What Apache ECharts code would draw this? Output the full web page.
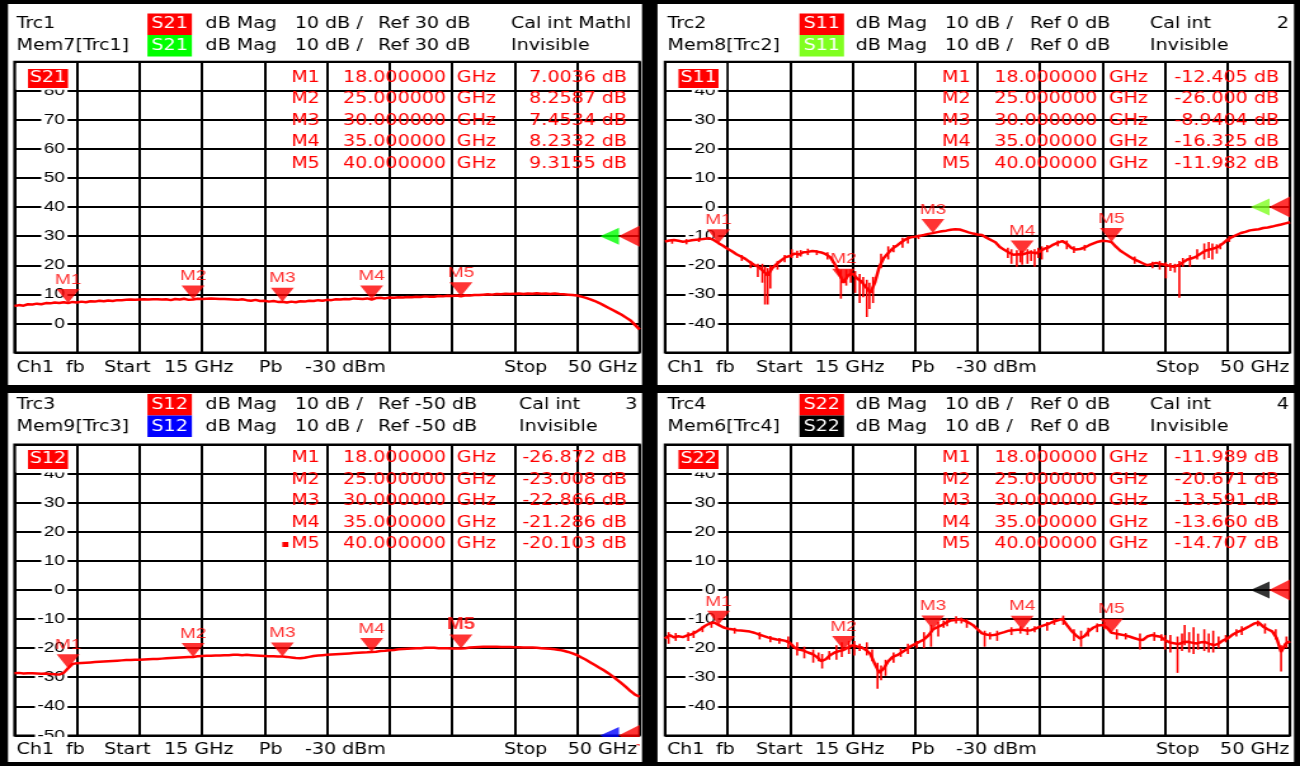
<!DOCTYPE html>
<html>
<head>
<meta charset="utf-8">
<script src="https://cdn.jsdelivr.net/npm/echarts@6/dist/echarts.min.js"></script>
<style>
  html, body { margin: 0; padding: 0; background: #000; overflow: hidden; width: 1300px; height: 766px; }
  /* The analyzer screen is laid out at 1024 px and stretched to the 1300 px window */
  #chart { position: absolute; left: 0; top: 0; width: 1024px; height: 766px;
           transform: scaleX(1.26953125); transform-origin: 0 0; }
</style>
</head>
<body>
<div id="chart"></div>
<script>
// ---- sweep ----
const SWEEP_START_GHZ = 15;
const SWEEP_STOP_GHZ = 50;
const SWEEP_STEP_GHZ = 0.25;
const GHZ_PER_DIV = 3.5;

// ---- markers ----
const MARKER_NAMES = ['M1', 'M2', 'M3', 'M4', 'M5'];
const MARKER_GHZ = [18, 25, 30, 35, 40];
const S21_MARKERS = [7.0036, 8.2587, 7.4534, 8.2332, 9.3155];
const S11_MARKERS = [-12.405, -26.000, -8.9404, -16.325, -11.982];
const S12_MARKERS = [-26.872, -23.008, -22.866, -21.286, -20.103];
const S22_MARKERS = [-11.989, -20.671, -13.591, -13.660, -14.707];

// ---- scale settings (dB) ----
const REF_LEVELS = [30, 0, -50, 0];
const Y_MIN = [-10, -50, -50, -50];
const Y_MAX = [90, 50, 50, 50];
const Y_STEP = 10;

// ---- traces, one row per GHz (15.00, 15.25, 15.50, 15.75 ...) ----
const S21_DB = [
  6.0, 6.3, 6.1, 6.6,
  6.5, 6.8, 6.6, 7.0,
  6.9, 7.2, 7.0, 7.3,
  7.0, 7.4, 7.2, 7.5,
  7.3, 7.6, 7.5, 7.8,
  7.6, 7.9, 7.7, 8.0,
  8.0, 8.1, 8.2, 8.1,
  8.2, 8.3, 8.2, 8.3,
  8.3, 8.2, 8.3, 8.0,
  8.4, 8.2, 8.5, 8.1,
  8.26, 8.5, 8.4, 8.5,
  8.6, 8.5, 8.4, 8.4,
  8.3, 8.2, 8.1, 8.3,
  8.0, 7.8, 8.1, 7.7,
  7.8, 7.5, 7.7, 7.4,
  7.45, 7.2, 7.5, 7.3,
  7.6, 7.5, 7.8, 7.7,
  8.0, 7.8, 8.1, 8.0,
  8.3, 8.2, 8.4, 8.3,
  8.6, 8.5, 8.4, 8.6,
  8.23, 8.7, 8.8, 8.6,
  8.9, 8.8, 9.0, 8.9,
  9.1, 9.0, 9.2, 9.1,
  9.3, 9.2, 9.2, 9.4,
  9.3, 9.5, 9.4, 9.6,
  9.32, 9.7, 9.6, 9.8,
  9.8, 9.9, 10.0, 9.9,
  10.1, 10.0, 10.2, 10.1,
  10.2, 10.3, 10.1, 10.3,
  10.2, 10.4, 10.2, 10.3,
  10.1, 10.3, 10.1, 10.0,
  9.9, 9.8, 9.6, 9.2,
  8.8, 8.3, 7.7, 7.0,
  6.2, 5.4, 4.6, 3.8,
  3.0, 2.0, 1.0, -0.5,
  -2.1
];

const S11_DB = [
  -11.8, -11.5, -11.3, -11.6,
  -11.9, -11.7, -11.4, -11.2,
  -11.1, -10.9, -10.7, -11.4,
  -12.4, -13.3, -14.3, -15.2,
  -16.2, -17.0, -17.8, -18.9,
  -19.9, -20.6, -22.0, -23.5,
  -21.0, -19.6, -18.3, -17.2,
  -16.8, -16.0, -16.3, -15.5,
  -15.4, -15.1, -15.3, -15.6,
  -16.2, -17.2, -19.5, -22.8,
  -26.0, -23.5, -22.8, -24.5,
  -25.6, -27.5, -29.5, -26.0,
  -20.5, -17.5, -15.8, -14.2,
  -13.2, -12.0, -11.0, -10.4,
  -10.2, -9.9, -9.6, -9.2,
  -8.94, -8.6, -8.3, -8.1,
  -7.8, -7.6, -7.7, -8.2,
  -8.7, -9.1, -9.4, -9.6,
  -10.5, -11.3, -12.1, -13.7,
  -14.7, -15.6, -16.4, -16.2,
  -16.3, -15.8, -15.5, -15.9,
  -15.2, -14.3, -13.8, -12.9,
  -12.2, -11.7, -12.6, -14.0,
  -14.6, -14.4, -13.9, -13.1,
  -12.5, -11.9, -11.6, -11.7,
  -11.98, -13.6, -15.0, -16.0,
  -17.0, -17.9, -18.6, -19.3,
  -20.0, -19.6, -19.2, -19.6,
  -19.8, -20.2, -20.5, -20.0,
  -19.0, -18.0, -17.6, -17.0,
  -16.0, -15.0, -14.6, -14.2,
  -13.6, -12.5, -11.2, -10.3,
  -9.6, -8.9, -8.5, -8.0,
  -7.8, -7.6, -7.2, -7.0,
  -6.7, -6.3, -6.0, -5.6,
  -5.2
];

const S12_DB = [
  -28.6, -28.5, -28.7, -28.6,
  -28.6, -28.7, -28.8, -28.7,
  -28.9, -29.0, -29.1, -28.5,
  -26.87, -25.4, -25.2, -25.1,
  -25.0, -24.9, -24.8, -24.7,
  -24.6, -24.5, -24.4, -24.3,
  -24.2, -24.1, -24.1, -24.0,
  -24.0, -23.9, -23.8, -23.7,
  -23.7, -23.6, -23.5, -23.4,
  -23.3, -23.2, -23.1, -23.0,
  -23.01, -22.8, -22.7, -22.6,
  -22.6, -22.5, -22.5, -22.4,
  -22.4, -22.3, -22.3, -22.4,
  -22.3, -22.4, -22.5, -22.6,
  -22.7, -22.8, -22.8, -22.9,
  -22.87, -23.0, -23.2, -23.4,
  -23.5, -23.3, -23.0, -22.7,
  -22.5, -22.4, -22.3, -22.2,
  -22.1, -22.0, -21.9, -21.8,
  -21.7, -21.6, -21.5, -21.4,
  -21.29, -21.2, -21.0, -20.9,
  -20.7, -20.6, -20.4, -20.3,
  -20.2, -20.1, -20.0, -20.0,
  -19.9, -19.9, -19.9, -20.0,
  -20.0, -20.0, -20.1, -20.1,
  -20.10, -20.0, -19.8, -19.7,
  -19.6, -19.5, -19.5, -19.5,
  -19.5, -19.6, -19.6, -19.6,
  -19.7, -19.7, -19.8, -19.8,
  -19.8, -19.9, -20.0, -20.1,
  -20.2, -20.4, -20.6, -20.9,
  -21.3, -21.8, -22.4, -23.2,
  -24.0, -24.9, -25.8, -26.7,
  -27.6, -28.6, -29.7, -30.9,
  -32.1, -33.4, -34.8, -36.0,
  -36.7
];

const S22_DB = [
  -16.7, -15.5, -16.3, -15.9,
  -16.2, -15.6, -15.2, -14.4,
  -13.4, -12.3, -11.5, -11.2,
  -11.99, -12.8, -13.3, -13.5,
  -13.8, -13.9, -14.1, -14.3,
  -14.7, -15.3, -15.8, -16.3,
  -16.7, -17.0, -17.2, -17.5,
  -18.2, -19.8, -20.5, -20.8,
  -21.5, -22.0, -23.0, -24.5,
  -23.8, -22.4, -21.5, -21.0,
  -20.67, -19.8, -19.0, -19.4,
  -19.7, -20.6, -22.0, -25.5,
  -28.5, -27.0, -24.5, -23.0,
  -22.4, -21.5, -20.5, -19.4,
  -18.6, -17.8, -17.0, -15.6,
  -13.59, -12.8, -12.1, -11.2,
  -10.5, -10.3, -10.1, -10.5,
  -11.2, -12.1, -13.5, -14.9,
  -15.3, -15.6, -15.4, -14.9,
  -14.5, -14.0, -13.8, -13.7,
  -13.66, -13.9, -13.8, -13.3,
  -12.6, -12.1, -11.6, -10.9,
  -10.4, -9.9, -12.0, -14.0,
  -15.5, -16.7, -15.8, -14.0,
  -12.9, -12.2, -12.0, -13.0,
  -14.71, -15.0, -15.3, -15.6,
  -16.0, -16.5, -17.0, -17.2,
  -16.0, -15.5, -15.8, -16.1,
  -17.2, -18.0, -18.3, -18.6,
  -18.0, -17.8, -18.1, -18.4,
  -18.0, -17.9, -18.5, -19.0,
  -18.4, -17.3, -16.7, -15.5,
  -14.6, -14.0, -13.2, -12.4,
  -11.5, -11.2, -12.6, -13.5,
  -14.2, -16.5, -21.3, -18.5,
  -17.6
];

// narrow noise spikes: [GHz, upper dB, lower dB]
const S11_SPIKES = [
  [15.4, -11, -12.6], [16.2, -11, -12.8], [16.9, -10.5, -12],
  [19.3, -16.5, -18.5], [19.8, -18.5, -21], [20.2, -19.5, -24],
  [20.45, -19.5, -26], [20.6, -20.5, -33.5], [20.75, -21, -33.5], [20.9, -20, -28],
  [21.3, -18.5, -21.5], [21.7, -16.5, -19], [22.1, -14.5, -17.5], [22.4, -15, -17.5], [22.6, -14.8, -17],
  [23.0, -14.3, -16.5], [23.5, -14.8, -16.5], [24.1, -15.5, -18],
  [24.85, -21.5, -31.5], [25.15, -21.5, -27], [25.4, -21.5, -26], [25.65, -22, -29.5],
  [25.9, -23, -33], [26.1, -24, -31], [26.3, -25, -37.8], [26.45, -26, -35], [26.65, -24, -33],
  [27.1, -16, -21], [27.5, -13.5, -18], [27.8, -13, -15.5], [28.3, -10.5, -14], [28.6, -10, -12.5], [29.2, -9.5, -11],
  [34.2, -14, -17.5], [34.4, -14.5, -19.5], [34.7, -14.8, -20.5], [34.9, -15, -19], [35.0, -15, -19.8],
  [35.3, -14.5, -19.5], [35.5, -14.8, -18.5], [35.7, -14.5, -20.5], [35.9, -14, -17.5],
  [36.1, -13.5, -18], [36.4, -13, -15.5], [37.0, -11.5, -13.5], [37.5, -11.5, -14.5],
  [37.9, -13.5, -15.8], [38.5, -13, -15],
  [41.3, -17, -19.5], [42.3, -18.8, -21], [42.7, -18.5, -21.5],
  [43.05, -19, -24.5], [43.3, -19.2, -22], [43.55, -19.5, -22.5], [43.8, -18.5, -31.2],
  [44.0, -17.5, -20.5], [44.4, -16.5, -20.5], [44.8, -14.5, -18],
  [45.2, -12.5, -18], [45.45, -12, -17.5], [45.65, -12.5, -18], [45.9, -12.8, -16],
  [46.1, -12.5, -14.5], [46.6, -10, -12]
];
const S22_SPIKES = [
  [15.2, -14.5, -18.5], [15.6, -14.8, -17.5], [16.3, -14.5, -17.5], [16.6, -14, -16.5],
  [17.1, -12.5, -14.5], [17.6, -10.8, -13], [18.9, -13, -15], [20.3, -14.5, -17], [20.9, -15.8, -18],
  [21.4, -16.5, -18.5], [21.9, -16, -20], [22.4, -18, -22.5], [22.8, -19.5, -23.5], [23.3, -20.5, -25],
  [23.6, -21.5, -24.5], [23.8, -22, -27], [24.2, -21, -24], [24.6, -19, -24], [24.9, -18, -23],
  [25.3, -17.5, -22], [25.6, -17.5, -22.5], [25.9, -18.5, -21],
  [26.3, -18, -22.5], [26.6, -20.5, -24.5], [26.9, -25, -34], [27.1, -26, -31], [27.35, -24, -29.5],
  [27.8, -21.5, -25], [28.2, -20, -23],
  [28.6, -18.5, -22], [29.1, -17.5, -20], [29.5, -14.5, -20], [29.9, -12, -19.5], [30.3, -11, -16],
  [30.6, -10.5, -13], [30.8, -9.8, -12.5],
  [31.3, -9, -11.5], [31.6, -9.5, -11.5], [31.9, -10, -13], [32.9, -14, -19.5], [33.2, -14.5, -17],
  [33.6, -14, -17.5], [34.4, -12.8, -15.5], [34.9, -12.5, -15],
  [35.3, -12.8, -15.5], [35.7, -12.5, -14.5], [36.4, -11, -14], [36.8, -9.8, -12], [37.3, -8.8, -12],
  [37.9, -13.5, -17.5], [38.3, -14, -19.5], [38.7, -13, -16],
  [39.2, -11.5, -14.5], [39.6, -11, -13.5], [40.3, -13.5, -17], [40.8, -14.8, -17], [41.6, -15, -20.5],
  [42.4, -14.5, -17.5], [42.8, -15.2, -17.5],
  [43.0, -15.5, -20.5], [43.3, -15.5, -21.5], [43.7, -16, -28.5], [43.95, -15, -21],
  [44.1, -12, -19], [44.35, -14.5, -21.5], [44.6, -12.8, -22], [44.85, -15, -20.5], [45.2, -13.5, -21],
  [45.45, -15, -21.5], [45.7, -14, -21.5], [46.0, -16, -20], [46.4, -15.5, -18], [47.0, -13.5, -16],
  [47.3, -12.5, -15.5], [48.2, -10.5, -12.5], [48.6, -11.5, -15], [49.2, -13.5, -17],
  [49.5, -19, -28], [49.8, -16, -20]
];

// ---- screen geometry (window pixels; x is converted to layout pixels) ----
const SX = 1300 / 1024;
const u = v => v / SX;
const RED = '#ff0000';
const FONT_UI = '15px "DejaVu Sans"';
const FONT_SCALE = 'Liberation Sans';

const PANELS = [
  { trc: 'Trc1', mem: 'Mem7[Trc1]', param: 'S21', memColor: '#00ff00', ref: 'Ref 30 dB', cal: 'Cal int Mathl', num: '',
    trace: S21_DB, spikes: null, markers: S21_MARKERS, col: 0, row: 0, calX: 511, activeMarker: -1 },
  { trc: 'Trc2', mem: 'Mem8[Trc2]', param: 'S11', memColor: '#80ff20', ref: 'Ref 0 dB', cal: 'Cal int', num: '2',
    trace: S11_DB, spikes: S11_SPIKES, markers: S11_MARKERS, col: 1, row: 0, calX: 1150, activeMarker: -1 },
  { trc: 'Trc3', mem: 'Mem9[Trc3]', param: 'S12', memColor: '#0000ff', ref: 'Ref -50 dB', cal: 'Cal int', num: '3',
    trace: S12_DB, spikes: null, markers: S12_MARKERS, col: 0, row: 1, calX: 519, activeMarker: 4 },
  { trc: 'Trc4', mem: 'Mem6[Trc4]', param: 'S22', memColor: '#000000', ref: 'Ref 0 dB', cal: 'Cal int', num: '4',
    trace: S22_DB, spikes: S22_SPIKES, markers: S22_MARKERS, col: 1, row: 1, calX: 1150, activeMarker: -1 }
];

const COLS = [
  { panelX: 8, panelW: 634, gridX: 14.5, trc: 16.6, box: 147.4, mag: 205.5, scale: 294.8, ref: 378, num: 637.5,
    ch: 16.6, fb: 66, start: 104, startF: 164, pb: 259, pwr: 305, stop: 504, stopF: 637,
    mRight: 319.8, fCenter: 394.5, ghz: 456.8, vRight: 627, tag: 28 },
  { panelX: 657.5, panelW: 636.5, gridX: 665, trc: 667.4, box: 799.5, mag: 855.6, scale: 944.8, ref: 1030, num: 1289,
    ch: 667, fb: 716, start: 756, startF: 815, pb: 911, pwr: 956, stop: 1156, stopF: 1289.5,
    mRight: 970.6, fCenter: 1045.7, ghz: 1108.9, vRight: 1279, tag: 678.5 }
];
const ROWS = [
  { panelY: 4, panelH: 381, gridY: 61.7, hdr1: 24.5, hdr2: 46.5, boxTop: 13.5, table0: 78, tagY: 69, footer: 368 },
  { panelY: 393, panelH: 369, gridY: 444.6, hdr1: 405, hdr2: 427, boxTop: 394, table0: 458.5, tagY: 450, footer: 750 }
];
const GRID_W = 625, GRID_H = 290.8, TABLE_ROW = 21.5;

function txt(x, y, s, o) {
  o = o || {};
  return { type: 'text', x: u(x), y: y, z: o.z || 120, silent: true,
    style: { text: s, fill: o.color || '#000', font: o.font || FONT_UI,
             align: o.align || 'left', verticalAlign: 'middle' } };
}
function box(x, y, w, h, color, z) {
  return { type: 'rect', silent: true, z: z || 110,
    shape: { x: u(x), y: y, width: u(w), height: h }, style: { fill: color } };
}

const grids = [], xAxes = [], yAxes = [], series = [], graphics = [];

PANELS.forEach((p, i) => {
  const C = COLS[p.col], R = ROWS[p.row];

  // white screen area of the diagram
  graphics.push({ type: 'rect', silent: true, z: -10,
    shape: { x: u(C.panelX), y: R.panelY, width: u(C.panelW), height: R.panelH }, style: { fill: '#fff' } });

  grids.push({ left: u(C.gridX), top: R.gridY, width: u(GRID_W), height: GRID_H,
    show: true, borderColor: '#000', borderWidth: 2, backgroundColor: 'transparent' });

  xAxes.push({ type: 'value', gridIndex: i, min: SWEEP_START_GHZ, max: SWEEP_STOP_GHZ, interval: GHZ_PER_DIV,
    axisLine: { show: false }, axisTick: { show: false }, axisLabel: { show: false },
    splitLine: { show: true, lineStyle: { color: '#000', width: 2 } } });

  yAxes.push({ type: 'value', gridIndex: i, min: Y_MIN[i], max: Y_MAX[i], interval: Y_STEP,
    axisLine: { show: false }, axisTick: { show: false },
    splitLine: { show: true, lineStyle: { color: '#000', width: 2 } },
    axisLabel: { inside: true, align: 'right', margin: u(53), color: '#000',
      fontFamily: FONT_SCALE, fontSize: 15, backgroundColor: '#fff', padding: [0, 2],
      showMaxLabel: false, showMinLabel: i === 2 } });

  // measured trace
  series.push({ type: 'line', xAxisIndex: i, yAxisIndex: i, silent: true, z: 3,
    symbol: 'none', showSymbol: false,
    lineStyle: { color: RED, width: 2.5 },
    data: p.trace.map((v, k) => [SWEEP_START_GHZ + k * SWEEP_STEP_GHZ, v]) });

  if (p.spikes) {
    series.push({ type: 'custom', xAxisIndex: i, yAxisIndex: i, silent: true, z: 3,
      encode: { x: 0, y: [1, 2] },
      data: p.spikes,
      renderItem: (params, api) => {
        const a = api.coord([api.value(0), api.value(1)]);
        const b = api.coord([api.value(0), api.value(2)]);
        return { type: 'line', shape: { x1: a[0], y1: a[1], x2: b[0], y2: b[1] },
                 style: { stroke: RED, lineWidth: 1.6 } };
      } });
  }

  // marker triangles with their names
  series.push({ type: 'scatter', xAxisIndex: i, yAxisIndex: i, silent: true, z: 5,
    symbol: 'triangle', symbolRotate: 180, symbolSize: [u(23), 14], symbolOffset: [0, -7],
    itemStyle: { color: RED },
    label: { show: true, position: 'top', distance: 2, formatter: '{b}', color: RED,
             fontFamily: FONT_SCALE, fontSize: 15 },
    data: MARKER_GHZ.map((f, k) => {
      const item = { name: MARKER_NAMES[k], value: [f, p.markers[k]] };
      if (k === p.activeMarker) item.label = { fontWeight: 'bold', fontSize: 16 };
      return item;
    }) });

  // reference level arrows (memory trace and data trace)
  series.push({ type: 'scatter', xAxisIndex: i, yAxisIndex: i, silent: true, z: 4,
    symbol: 'triangle', symbolRotate: 90,
    data: [
      { value: [SWEEP_STOP_GHZ, REF_LEVELS[i]], symbolSize: [17, u(19)], symbolOffset: [-u(30), 0],
        itemStyle: { color: p.memColor } },
      { value: [SWEEP_STOP_GHZ, REF_LEVELS[i]], symbolSize: [21, u(21)], symbolOffset: [-u(10.5), 0],
        itemStyle: { color: RED } }
    ] });

  // hide the upper half of the first scale label under the marker info line
  graphics.push(box(C.gridX + 1.5, R.gridY + 1.5, 60, GRID_H / 10 - 2.6, '#fff', 100));

  // trace header lines
  graphics.push(txt(C.trc, R.hdr1, p.trc));
  graphics.push(txt(C.trc, R.hdr2, p.mem));
  graphics.push(box(C.box, R.boxTop, 44.5, 21.5, RED));
  graphics.push(box(C.box, R.boxTop + 21.5, 44.5, 21.5, p.memColor));
  graphics.push(txt(C.box + 22.25, R.hdr1, p.param, { color: '#fff', align: 'center' }));
  graphics.push(txt(C.box + 22.25, R.hdr2, p.param, { color: '#fff', align: 'center' }));
  [R.hdr1, R.hdr2].forEach(y => {
    graphics.push(txt(C.mag, y, 'dB Mag'));
    graphics.push(txt(C.scale, y, '10 dB /'));
    graphics.push(txt(C.ref, y, p.ref));
  });
  graphics.push(txt(p.calX, R.hdr1, p.cal));
  graphics.push(txt(p.calX, R.hdr2, 'Invisible'));
  if (p.num) graphics.push(txt(C.num, R.hdr1, p.num, { align: 'right' }));

  // trace name tag inside the diagram
  graphics.push(box(C.tag, R.tagY, 40, 19, RED, 115));
  graphics.push(txt(C.tag + 20, R.tagY + 9.5, p.param, { color: '#fff', align: 'center' }));

  // marker info table
  MARKER_GHZ.forEach((f, k) => {
    const y = R.table0 + k * TABLE_ROW;
    graphics.push(txt(C.mRight, y, MARKER_NAMES[k], { color: RED, align: 'right' }));
    graphics.push(txt(C.fCenter, y, f.toFixed(6), { color: RED, align: 'center' }));
    graphics.push(txt(C.ghz, y, 'GHz', { color: RED }));
    graphics.push(txt(C.vRight, y, p.markers[k].toPrecision(5) + ' dB', { color: RED, align: 'right' }));
    if (k === p.activeMarker) graphics.push(box(C.mRight - 37.5, y - 2.5, 6, 5, RED, 120));
  });

  // channel line under the diagram
  const gridBottom = R.gridY + GRID_H;
  graphics.push(box(C.panelX + 1, gridBottom + 1.6, C.panelW - 2, R.footer - gridBottom - 7.5, '#fff', 105));
  const fy = R.footer;
  graphics.push(txt(C.ch, fy, 'Ch1'));
  graphics.push(txt(C.fb, fy, 'fb'));
  graphics.push(txt(C.start, fy, 'Start'));
  graphics.push(txt(C.startF, fy, SWEEP_START_GHZ + ' GHz'));
  graphics.push(txt(C.pb, fy, 'Pb'));
  graphics.push(txt(C.pwr, fy, '-30 dBm'));
  graphics.push(txt(C.stop, fy, 'Stop'));
  graphics.push(txt(C.stopF, fy, SWEEP_STOP_GHZ + ' GHz', { align: 'right' }));
});

const chart = echarts.init(document.getElementById('chart'), null, { renderer: 'canvas' });
chart.setOption({
  animation: false,
  backgroundColor: '#000',
  textStyle: { fontFamily: FONT_SCALE },
  grid: grids,
  xAxis: xAxes,
  yAxis: yAxes,
  series: series,
  graphic: { elements: graphics }
});
</script>
</body>
</html>
